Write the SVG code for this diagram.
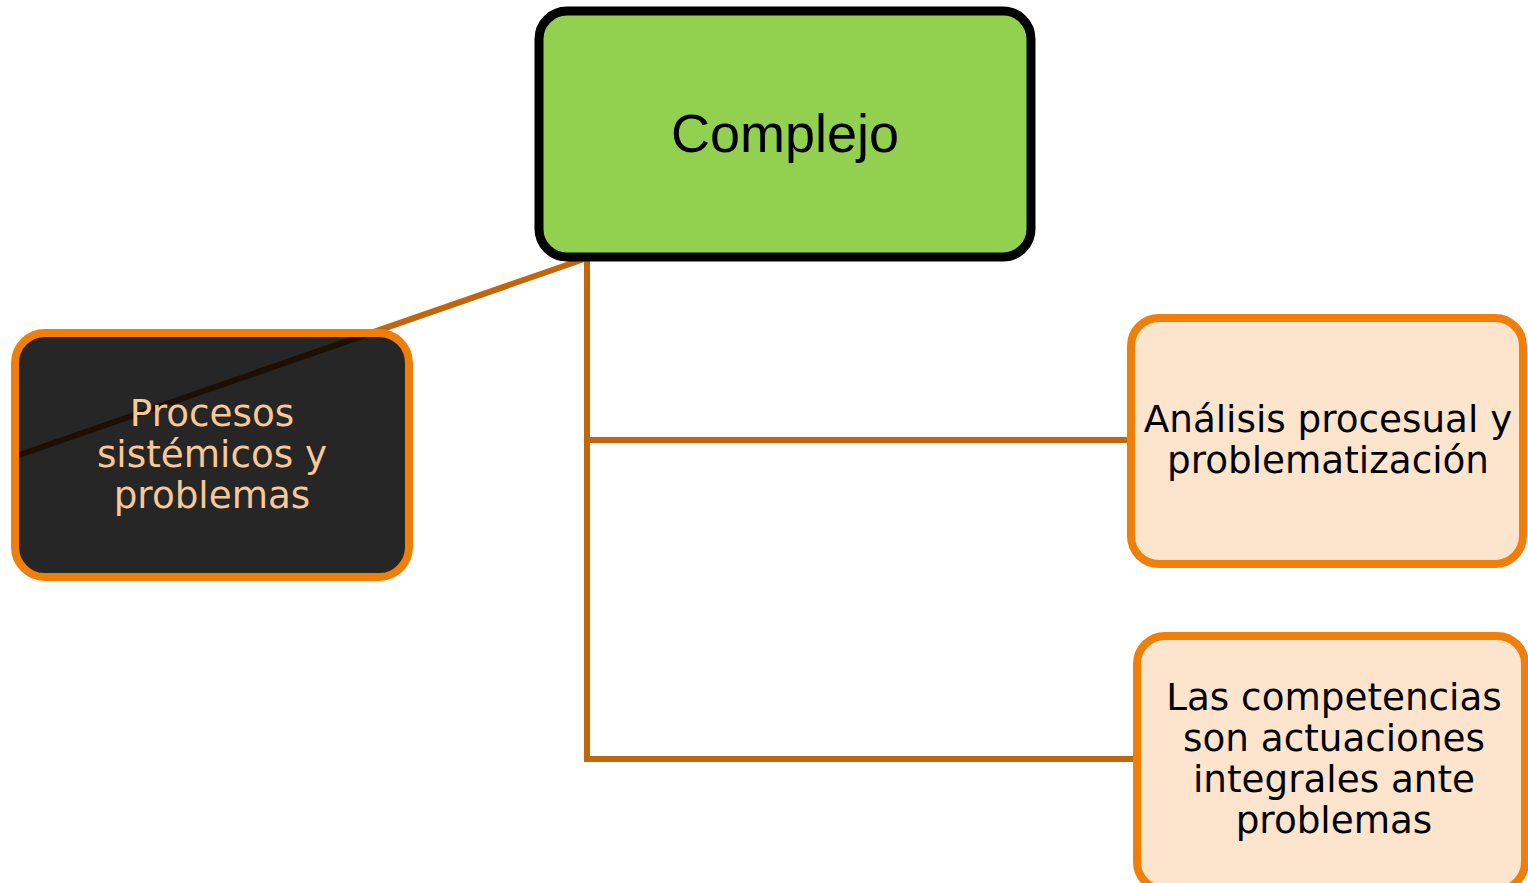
<svg xmlns="http://www.w3.org/2000/svg" width="1528" height="883" viewBox="0 0 1528 883">
<style>
.conn{fill:none;stroke:#C2660A;stroke-width:6;stroke-linecap:square;stroke-linejoin:miter}
.orange{stroke:#F07F0A;stroke-width:8}
.t{font-family:"DejaVu Sans","Liberation Sans",sans-serif;font-size:37.3px;text-anchor:middle}
</style>
<rect width="1528" height="883" fill="#ffffff"/>
<g id="connectors">
<line class="conn" x1="587" y1="258" x2="19" y2="455"/>
<polyline class="conn" points="587,258 587,759 1134,759"/>
<line class="conn" x1="587" y1="440" x2="1128" y2="440"/>
</g>
<g id="node-complejo">
<rect x="539" y="11" width="492" height="246" rx="28" fill="#92D050" stroke="#000000" stroke-width="9"/>
<text x="785" y="152" font-family="Liberation Sans, Arial, sans-serif" font-size="54" text-anchor="middle" fill="#000000">Complejo</text>
</g>
<g id="node-procesos">
<rect x="15" y="333" width="394" height="244" rx="30" fill="#000000" fill-opacity="0.85" class="orange"/>
<text class="t" fill="#F9C896" x="212"><tspan x="212" y="426">Procesos</tspan><tspan x="212" y="467">sistémicos y</tspan><tspan x="212" y="508">problemas</tspan></text>
</g>
<g id="node-analisis">
<rect x="1131" y="318" width="392" height="246" rx="28" fill="#FDE5CD" class="orange"/>
<text class="t" fill="#000000"><tspan x="1328" y="432">Análisis procesual y</tspan><tspan x="1328" y="473">problematización</tspan></text>
</g>
<g id="node-competencias">
<rect x="1137" y="636" width="388" height="254" rx="28" fill="#FDE5CD" class="orange"/>
<text class="t" fill="#000000" font-size="35.6"><tspan x="1334" y="710">Las competencias</tspan><tspan x="1334" y="751">son actuaciones</tspan><tspan x="1334" y="792">integrales ante</tspan><tspan x="1334" y="833">problemas</tspan></text>
</g>
</svg>
